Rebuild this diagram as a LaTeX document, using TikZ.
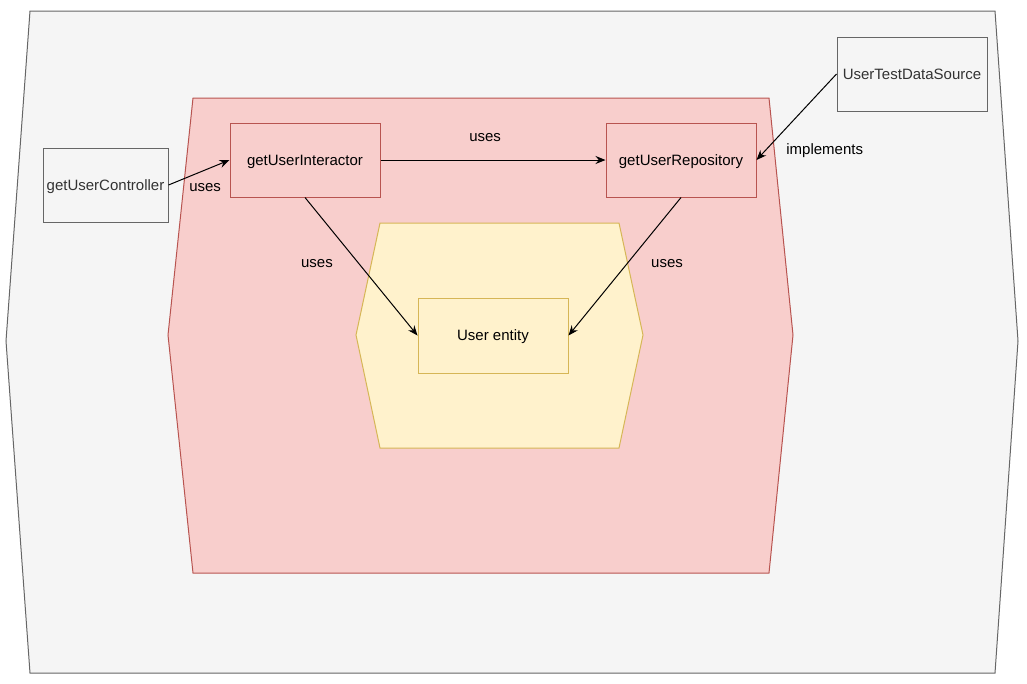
\documentclass[tikz,border=0pt]{standalone}
\usepackage{fontspec}
\setmainfont{Liberation Sans}
\usetikzlibrary{arrows.meta}
\usetikzlibrary{positioning}
\definecolor{outerfill}{HTML}{F5F5F5}
\definecolor{outerline}{HTML}{666666}
\definecolor{textgrey}{HTML}{333333}
\definecolor{redfill}{HTML}{F8CECC}
\definecolor{redline}{HTML}{B85450}
\definecolor{yellowfill}{HTML}{FFF2CC}
\definecolor{yellowline}{HTML}{D6B656}

\begin{document}
\begin{tikzpicture}[x=0.75pt,y=-0.75pt,font=\fontsize{11.25}{13}\selectfont]
	\useasboundingbox[fill=white] (0,0) rectangle (1027,683);

	% layers
	\filldraw[fill=outerfill,draw=outerline,line width=0.75pt]
		(30,11) -- (995,11) -- (1018,341) -- (995,673) -- (30,673) -- (6,341) -- cycle;
	\filldraw[fill=redfill,draw=redline,line width=0.75pt]
		(193,98) -- (769,98) -- (793,335) -- (769,573) -- (193,573) -- (168,335) -- cycle;
	\filldraw[fill=yellowfill,draw=yellowline,line width=0.75pt]
		(380,223) -- (619,223) -- (643,335) -- (619,448) -- (380,448) -- (356,335) -- cycle;

	\begin{scope}[every node/.style={rectangle,draw,line width=0.75pt,inner sep=0pt,text depth=0pt,minimum width=112.5pt,minimum height=55.5pt}]
		\node[draw=outerline,fill=outerfill,text=textgrey,minimum width=93.75pt] (controller) at (105.5,185) {getUserController};
		\node[draw=redline,fill=redfill] (interactor) at (305,160) {getUserInteractor};
		\node[draw=redline,fill=redfill] (repository) at (681,160) {getUserRepository};
		\node[draw=outerline,fill=outerfill,text=textgrey] (datasource) at (912,74) {UserTestDataSource};
		\node[draw=yellowline,fill=yellowfill,minimum height=56.25pt] (entity) at (493,335.5) {User entity};
	\end{scope}

	\begin{scope}[>={Stealth[length=7.5pt,width=6pt,inset=2.5pt]},line width=0.75pt,every node/.style={inner sep=0pt}]
		\draw[->] (controller.east) -- node[pos=0.6,yshift=-13.5pt] {uses} (interactor.west);
		\draw[->] (interactor.east) -- node[pos=0.465,yshift=16.5pt] {uses} (repository.west);
		\draw[->] (interactor.south) -- node[pos=0.462,xshift=-30pt,yshift=-1.5pt] {uses} (entity.west);
		\draw[->] (repository.south) -- node[pos=0.462,xshift=28.5pt,yshift=-1.5pt] {uses} (entity.east);
		\draw[->] (datasource.west) -- node[pos=0.872,xshift=43.5pt,yshift=-1.5pt] {implements} (repository.east);
	\end{scope}
\end{tikzpicture}
\end{document}
